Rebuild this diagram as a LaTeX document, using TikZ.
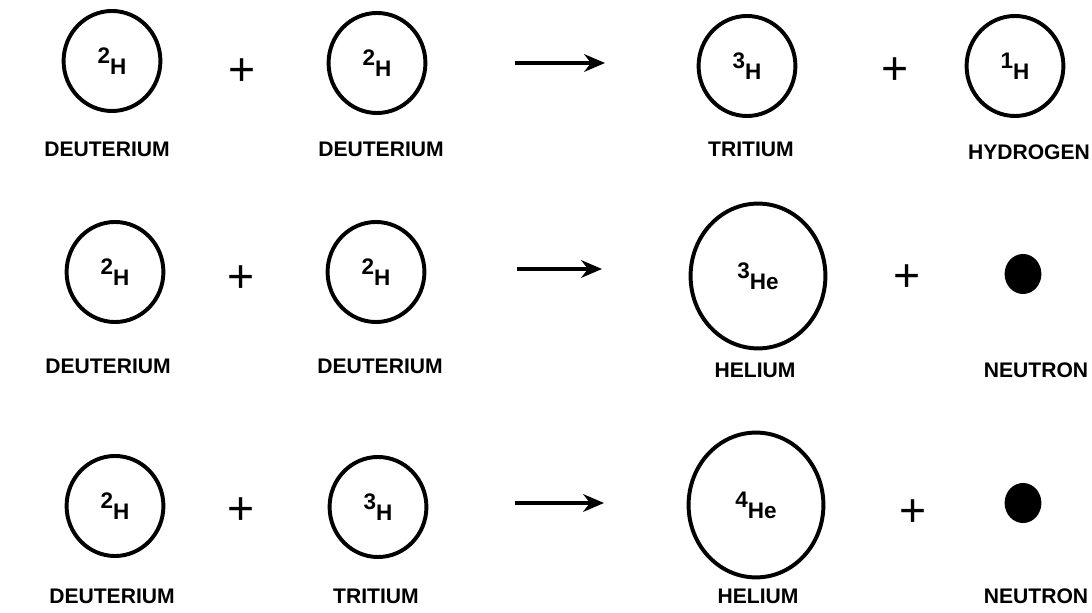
\documentclass[tikz,border=0pt]{standalone}
\usepackage{fontspec}
\setmainfont{Liberation Sans}
\usetikzlibrary{shapes.geometric,arrows.meta}

\newcommand{\nucl}[2]{\raisebox{0.25em}{#1}\raisebox{-0.25em}{#2}}

\begin{document}
\begin{tikzpicture}[x=0.025cm, y=0.025cm]
    % Styling
    \tikzset{
        n_small/.style={ellipse, draw, line width=2.8pt, minimum width=2.42cm, minimum height=2.5cm, inner sep=0pt, font=\bfseries\fontsize{16}{19}\selectfont},
        n_big/.style={n_small, minimum width=3.37cm, minimum height=3.62cm},
        n_neutron/.style={ellipse, fill=black, minimum width=0.92cm, minimum height=1cm, inner sep=0pt},
        n_label/.style={font=\bfseries\fontsize{15}{18}\selectfont, inner sep=0pt},
        n_plus/.style={font=\fontsize{33}{36}\selectfont, inner sep=0pt},
        n_arrow/.style={line width=2.6pt, -{Stealth[length=0.52cm, width=0.44cm, inset=0.17cm]}}
    }
    \useasboundingbox (0,0) rectangle (1092,612);

    % Row 1: D + D -> T + H
    \node[n_small] (deu1) at (112,551) {\nucl{2}{H}};
    \node[n_plus]  (plus1) at (242,540) {+};
    \node[n_small] (deu2) at (377,549) {\nucl{2}{H}};
    \coordinate (a1) at (515,549);
    \coordinate (b1) at (605,549);
    \node[n_small] (tri1) at (747,546) {\nucl{3}{H}};
    \node[n_plus]  (plus2) at (895,541) {+};
    \node[n_small] (hyd1) at (1015,546) {\nucl{1}{H}};

    % Row 2: D + D -> He3 + n
    \node[n_small] (deu3) at (115,340) {\nucl{2}{H}};
    \node[n_plus]  (plus3) at (241,333) {+};
    \node[n_small] (deu4) at (376,340) {\nucl{2}{H}};
    \coordinate (a2) at (517,343);
    \coordinate (b2) at (602,343);
    \node[n_big]   (hel3) at (758,336) {\nucl{3}{He}};
    \node[n_plus]  (plus4) at (907,334) {+};
    \node[n_neutron] (neu1) at (1023,338) {};

    % Row 3: D + T -> He4 + n
    \node[n_small] (deu5) at (115,106) {\nucl{2}{H}};
    \node[n_plus]  (plus5) at (241,101) {+};
    \node[n_small] (tri2) at (378,105) {\nucl{3}{H}};
    \coordinate (a3) at (515,109);
    \coordinate (b3) at (604,109);
    \node[n_big]   (hel4) at (756,107) {\nucl{4}{He}};
    \node[n_plus]  (plus6) at (913,99) {+};
    \node[n_neutron] (neu2) at (1023,109) {};

    % Arrows
    \draw[n_arrow] (a1) -- (b1);
    \draw[n_arrow] (a2) -- (b2);
    \draw[n_arrow] (a3) -- (b3);

    % Labels
    \node[n_label] (ldeu1) at (107,463) {DEUTERIUM};
    \node[n_label] (ldeu2) at (381,463) {DEUTERIUM};
    \node[n_label] (ltri1) at (751,463) {TRITIUM};
    \node[n_label] (lhyd1) at (1029,460) {HYDROGEN};
    \node[n_label] (ldeu3) at (108,246) {DEUTERIUM};
    \node[n_label] (ldeu4) at (380,246) {DEUTERIUM};
    \node[n_label] (lhel3) at (755,242) {HELIUM};
    \node[n_label] (lneu1) at (1036,242) {NEUTRON};
    \node[n_label] (ldeu5) at (112,16) {DEUTERIUM};
    \node[n_label] (ltri2) at (376,16) {TRITIUM};
    \node[n_label] (lhel4) at (758,16) {HELIUM};
    \node[n_label] (lneu2) at (1036,16) {NEUTRON};
\end{tikzpicture}
\end{document}
